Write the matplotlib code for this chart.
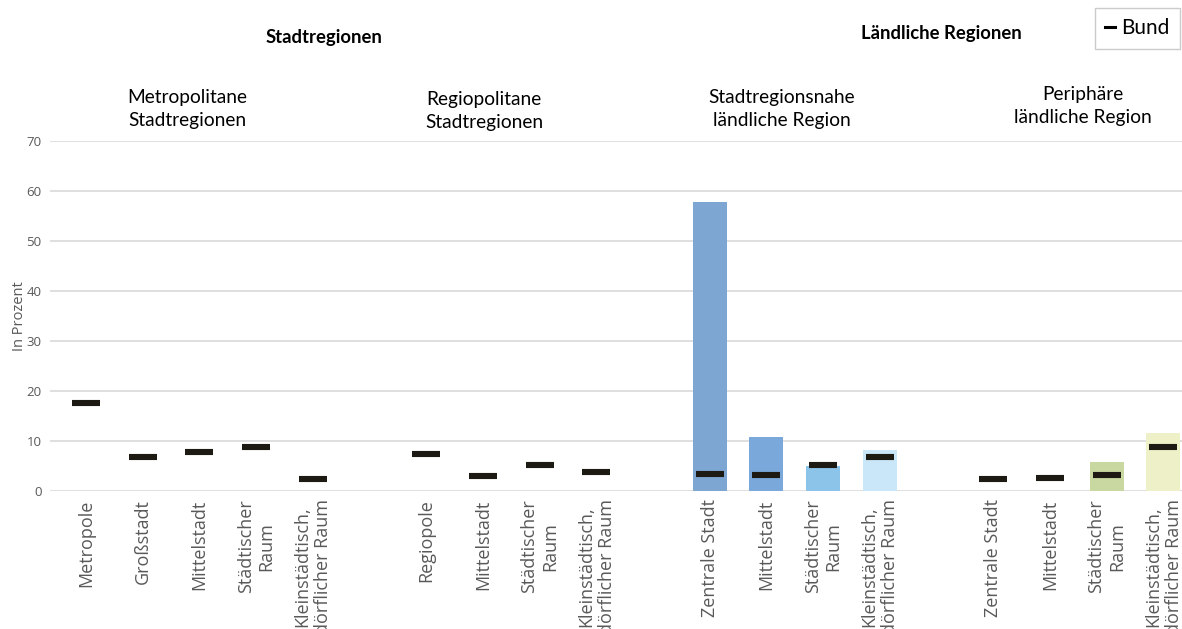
import matplotlib
matplotlib.use("Agg")
import matplotlib.pyplot as plt
import numpy as np
from matplotlib.lines import Line2D

# ---- data ----
metro_cats = ["Metropole", "Großstadt", "Mittelstadt", "Städtischer\nRaum", "Kleinstädtisch,\ndörflicher Raum"]
regio_cats = ["Regiopole", "Mittelstadt", "Städtischer\nRaum", "Kleinstädtisch,\ndörflicher Raum"]
nahe_cats = ["Zentrale Stadt", "Mittelstadt", "Städtischer\nRaum", "Kleinstädtisch,\ndörflicher Raum"]
periph_cats = ["Zentrale Stadt", "Mittelstadt", "Städtischer\nRaum", "Kleinstädtisch,\ndörflicher Raum"]

metro_values = [0, 0, 0, 0, 0]
regio_values = [0, 0, 0, 0]
nahe_values = [57.8, 10.9, 5.1, 8.3]
periph_values = [0, 0, 5.9, 11.7]

metro_bund = [17.7, 6.9, 7.9, 8.9, 2.5]
regio_bund = [7.4, 3.1, 5.3, 3.8]
nahe_bund = [3.4, 3.2, 5.3, 6.8]
periph_bund = [2.5, 2.7, 3.2, 8.9]

metro_colors = ["#7BA7D5"] * 5
regio_colors = ["#7BA7D5"] * 4
nahe_colors = ["#7DA6D3", "#7AA8DA", "#8BC3E9", "#C9E7F8"]
periph_colors = ["#C9D9A0", "#C9D9A0", "#C8D8A0", "#EEF1C8"]

group_titles = ["Metropolitane\nStadtregionen", "Regiopolitane\nStadtregionen",
                "Stadtregionsnahe\nländliche Region", "Periphäre\nländliche Region"]
super_titles = ["Stadtregionen", "Ländliche Regionen"]
y_ticks = [0, 10, 20, 30, 40, 50, 60, 70]

groups = [
    (metro_cats, metro_values, metro_bund, metro_colors),
    (regio_cats, regio_values, regio_bund, regio_colors),
    (nahe_cats, nahe_values, nahe_bund, nahe_colors),
    (periph_cats, periph_values, periph_bund, periph_colors),
]

W, H = 1182, 629
fig = plt.figure(figsize=(W / 100, H / 100), dpi=100)
ax = fig.add_axes([50 / W, (H - 491) / H, (W - 50) / W, 350 / H])

xs_all, labels_all = [], []
pos = 0
for cats, vals, bund, cols in groups:
    xs = np.arange(pos, pos + len(cats))
    ax.bar(xs, vals, width=0.6, color=cols, zorder=2)
    ax.plot(xs, bund, ls="none", marker="_", ms=20, mew=4.4, color="#1C1A12", zorder=3)
    xs_all.extend(xs)
    labels_all.extend(cats)
    pos += len(cats) + 1

ax.set_xlim(-0.635, 19.33)
ax.set_ylim(0, 70)
ax.set_yticks(y_ticks)
ax.yaxis.grid(True, color="#D9D9D9", lw=1.2, zorder=0)
ax.set_axisbelow(True)
for s in ax.spines.values():
    s.set_visible(False)
ax.tick_params(axis="y", length=0, pad=6, labelsize=9.5, labelcolor="#595959")
ax.tick_params(axis="x", length=0, pad=6)
for lab in ax.get_yticklabels():
    lab.set_fontfamily("Open Sans")

ax.set_xticks(xs_all)
ax.set_xticklabels(labels_all, rotation=90, fontsize=13, color="#595959",
                   fontfamily="Open Sans", va="top", ha="center", multialignment="center",
                   linespacing=1.2)

ax.set_ylabel("In Prozent", fontsize=10.5, color="#595959", fontfamily="Open Sans", labelpad=0)

# group titles
title_px = [187, 484, 782, 1083]
title_py = [109, 111, 109, 106]
for t, px, py in zip(group_titles, title_px, title_py):
    fig.text(px / W, 1 - py / H, t, ha="center", va="center", fontsize=13.8,
             fontfamily="Lato", color="#000000", linespacing=1.4)

fig.text(324 / W, 1 - 37 / H, super_titles[0], ha="center", va="center",
         fontsize=13.3, fontweight="bold", fontfamily="Lato")
fig.text(941 / W, 1 - 34 / H, super_titles[1], ha="center", va="center",
         fontsize=13.3, fontweight="bold", fontfamily="Lato")

handle = Line2D([], [], color="black", lw=2.2)
leg = fig.legend([handle], ["Bund"], loc="upper left",
                 bbox_to_anchor=(1095 / W, 1 - 8 / H), frameon=True, fancybox=False,
                 handlelength=0.45, handletextpad=0.3, borderpad=0.5, borderaxespad=0,
                 prop={"family": "Lato", "size": 15})
leg.get_frame().set_edgecolor("#BFBFBF")
leg.get_frame().set_linewidth(1.0)

fig.savefig("out.png", dpi=100)
